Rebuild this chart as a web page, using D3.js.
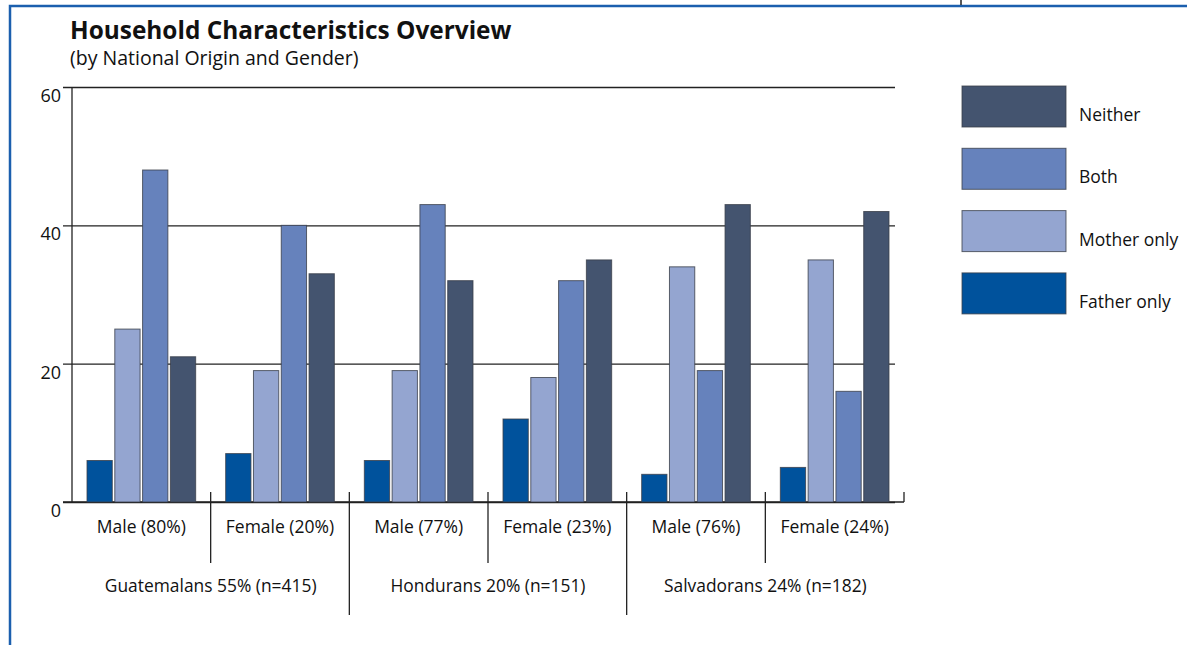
<!DOCTYPE html>
<html>
<head>
<meta charset="utf-8">
<script src="https://cdn.jsdelivr.net/npm/d3@7"></script>
<style>
  body { margin: 0; background: #fff; }
  svg { display: block; font-family: "Open Sans", "Noto Sans", sans-serif; }
</style>
</head>
<body>
<div id="chart"></div>
<script>
// chart data
var series = ['Father only', 'Mother only', 'Both', 'Neither'];
var colors = ['#00529c', '#94a5d0', '#6682bc', '#44546f'];
var categories = ['Male (80%)', 'Female (20%)', 'Male (77%)', 'Female (23%)', 'Male (76%)', 'Female (24%)'];
var origins = ['Guatemalans 55% (n=415)', 'Hondurans 20% (n=151)', 'Salvadorans 24% (n=182)'];
var fatherOnly = [6, 7, 6, 12, 4, 5];
var motherOnly = [25, 19, 19, 18, 34, 35];
var both = [48, 40, 43, 32, 19, 16];
var neither = [21, 33, 32, 35, 43, 42];
var yTicks = [0, 20, 40, 60];

var width = 1187, height = 645;
var values = [fatherOnly, motherOnly, both, neither];

var svg = d3.select('#chart').append('svg')
  .attr('width', width)
  .attr('height', height);

// frame
svg.append('path')
  .attr('d', 'M10,645 V6 H1187')
  .attr('fill', 'none')
  .attr('stroke', '#1b5fae')
  .attr('stroke-width', 2.5);
svg.append('line')
  .attr('x1', 961).attr('x2', 961).attr('y1', 0).attr('y2', 5)
  .attr('stroke', '#222').attr('stroke-width', 1.5);

// titles
svg.append('text')
  .attr('x', 70).attr('y', 39)
  .attr('font-size', 24.4)
  .attr('font-weight', 700)
  .attr('fill', '#111')
  .text('Household Characteristics Overview');
svg.append('text')
  .attr('x', 70).attr('y', 65)
  .attr('font-size', 19.5)
  .attr('fill', '#111')
  .text('(by National Origin and Gender)');

var x0 = 72, x1 = 904, yTop = 87, yBase = 502;

var y = d3.scaleLinear().domain([0, 60]).range([yBase, yTop]);
var x = d3.scaleBand().domain(categories).range([x0, x1]).padding(0);
var xs = d3.scaleBand().domain(series)
  .range([15, x.bandwidth() - 15])
  .paddingInner(0.09);

// gridlines + tick labels
var yAxis = d3.axisLeft(y)
  .tickValues(yTicks)
  .tickSize(-(895 - 63))
  .tickPadding(2);

var ga = svg.append('g')
  .attr('transform', 'translate(63,0)')
  .call(yAxis);
ga.select('.domain').remove();
ga.selectAll('.tick line').attr('stroke', '#222').attr('stroke-width', 1.3);
ga.selectAll('.tick text')
  .attr('font-size', 18)
  .attr('font-family', '"Open Sans", sans-serif')
  .attr('fill', '#111')
  .attr('dy', '0.8em');

// extend baseline to the right edge
svg.append('line')
  .attr('x1', 63).attr('x2', x1)
  .attr('y1', yBase).attr('y2', yBase)
  .attr('stroke', '#222').attr('stroke-width', 1.3);
svg.append('line')
  .attr('x1', x0).attr('x2', x0)
  .attr('y1', yTop).attr('y2', yBase)
  .attr('stroke', '#222').attr('stroke-width', 1.3);

// bars
var groups = svg.append('g').selectAll('g')
  .data(categories)
  .enter().append('g')
  .attr('transform', function(d) { return 'translate(' + x(d) + ',0)'; });

groups.selectAll('rect')
  .data(function(d, i) {
    return series.map(function(s, j) { return { key: s, value: values[j][i], idx: j }; });
  })
  .enter().append('rect')
  .attr('x', function(d) { return xs(d.key); })
  .attr('y', function(d) { return y(d.value); })
  .attr('width', xs.bandwidth())
  .attr('height', function(d) { return yBase - y(d.value); })
  .attr('fill', function(d) { return colors[d.idx]; })
  .attr('stroke', '#3a3f4a')
  .attr('stroke-opacity', 0.8)
  .attr('stroke-width', 1);

// separators between categories
var seps = categories.map(function(d, i) { return i; }).slice(1);
svg.append('g').selectAll('line')
  .data(seps)
  .enter().append('line')
  .attr('x1', function(i) { return x(categories[i]); })
  .attr('x2', function(i) { return x(categories[i]); })
  .attr('y1', yBase - 10)
  .attr('y2', function(i) { return i % 2 === 0 ? 615 : 563; })
  .attr('stroke', '#222').attr('stroke-width', 1.3);
svg.append('line')
  .attr('x1', x1).attr('x2', x1)
  .attr('y1', yBase - 10).attr('y2', yBase)
  .attr('stroke', '#222').attr('stroke-width', 1.3);

// category labels
svg.append('g').selectAll('text')
  .data(categories)
  .enter().append('text')
  .attr('x', function(d) { return x(d) + x.bandwidth() / 2; })
  .attr('y', 533)
  .attr('text-anchor', 'middle')
  .attr('font-size', 17.5)
  .attr('fill', '#111')
  .text(function(d) { return d; });

// origin labels
svg.append('g').selectAll('text')
  .data(origins)
  .enter().append('text')
  .attr('x', function(d, i) { return x(categories[i * 2]) + x.bandwidth(); })
  .attr('y', 592)
  .attr('text-anchor', 'middle')
  .attr('font-size', 17.4)
  .attr('fill', '#111')
  .text(function(d) { return d; });

// legend (reverse order, Neither on top)
var legend = svg.append('g').selectAll('g')
  .data(series.slice().reverse())
  .enter().append('g')
  .attr('transform', function(d, i) { return 'translate(962,' + (86 + i * 62.3) + ')'; });

legend.append('rect')
  .attr('width', 104)
  .attr('height', 41)
  .attr('fill', function(d) { return colors[series.indexOf(d)]; })
  .attr('stroke', '#3a3f4a')
  .attr('stroke-opacity', 0.8)
  .attr('stroke-width', 1);

legend.append('text')
  .attr('x', 117)
  .attr('y', 35)
  .attr('font-size', 17.5)
  .attr('fill', '#111')
  .text(function(d) { return d; });
</script>
</body>
</html>
